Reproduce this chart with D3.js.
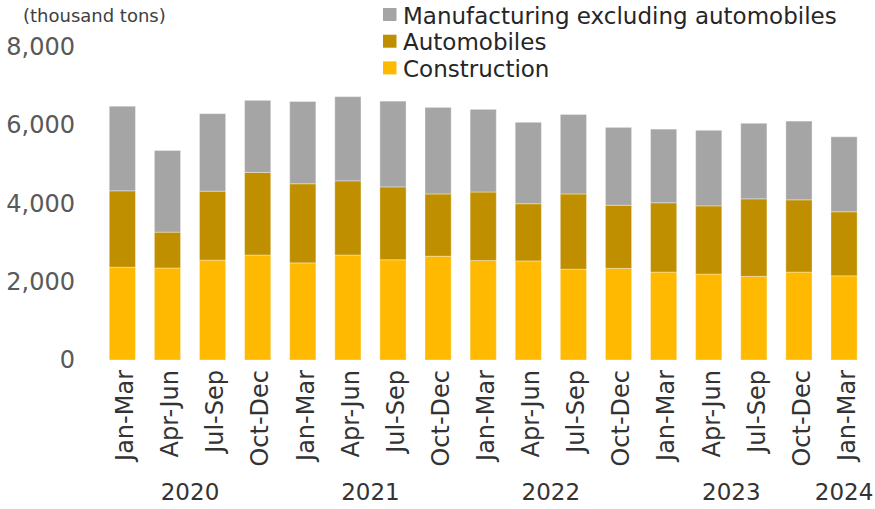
<!DOCTYPE html>
<html><head><meta charset="utf-8">
<script src="https://cdn.jsdelivr.net/npm/d3@7"></script>
<style>body{margin:0;background:#fff}svg{display:block}text{font-family:"DejaVu Sans",Verdana,sans-serif}</style>
</head><body><svg id="c" width="875" height="509"></svg>
<script>
const quarters = ["Jan-Mar","Apr-Jun","Jul-Sep","Oct-Dec","Jan-Mar","Apr-Jun","Jul-Sep","Oct-Dec","Jan-Mar","Apr-Jun","Jul-Sep","Oct-Dec","Jan-Mar","Apr-Jun","Jul-Sep","Oct-Dec","Jan-Mar"];
const years = ["2020","2021","2022","2023","2024"];
const yearStart = [0,4,8,12,16];
const yearLen = [4,4,4,4,1];
const construction = [2370,2350,2550,2680,2480,2680,2560,2650,2540,2530,2320,2340,2245,2195,2135,2245,2150];
const automobiles  = [1950,915,1760,2110,2020,1895,1860,1590,1750,1460,1920,1610,1770,1740,1980,1845,1635];
const manufacturing= [2160,2085,1980,1840,2100,2150,2190,2210,2110,2080,2030,1990,1880,1930,1930,2010,1915];
const yTicks = [0,2000,4000,6000,8000];
const seriesNames = ["Construction","Automobiles","Manufacturing excluding automobiles"];
const colors = ["#FFB900","#BF8F00","#A5A5A5"];

const svg = d3.select("#c");
const ids = d3.range(quarters.length);
const x = d3.scaleBand().domain(ids).range([99.8,866.6]).paddingInner(0.42).paddingOuter(0.21);
const y = d3.scaleLinear().domain([0,8000]).range([360,46.7]);

const rows = ids.map(i => ({i, c: construction[i], a: automobiles[i], m: manufacturing[i]}));
const stack = d3.stack().keys(["c","a","m"])(rows);

svg.append("g").selectAll("g").data(stack).join("g")
  .attr("fill",(d,k)=>colors[k])
  .selectAll("rect").data(d=>d).join("rect")
  .attr("x",d=>x(d.data.i)).attr("width",x.bandwidth())
  .attr("y",d=>y(d[1])).attr("height",d=>y(d[0])-y(d[1]))
  .attr("stroke","#fff").attr("stroke-opacity",0.35).attr("stroke-width",1);

// y axis
const ya = svg.append("g").attr("transform","translate(75,0)")
  .call(d3.axisLeft(y).tickValues(yTicks).tickFormat(d3.format(",")).tickSize(0).tickPadding(0));
ya.select(".domain").remove();
ya.selectAll("text").attr("font-size",24).attr("fill","#595959").attr("font-family","DejaVu Sans, Verdana, sans-serif");

// x axis quarter labels
const xa = svg.append("g").attr("transform","translate(0,370)")
  .call(d3.axisBottom(x).tickFormat(i=>quarters[i]).tickSize(0).tickPadding(0));
xa.select(".domain").remove();
xa.selectAll("text").attr("transform","rotate(-90)").attr("text-anchor","end")
  .attr("x",0).attr("y",0).attr("dy","0.45em").attr("dx","0")
  .attr("font-size",24).attr("fill","#333").attr("font-family","DejaVu Sans, Verdana, sans-serif");

// years
svg.append("g").selectAll("text").data(years).join("text")
  .attr("x",(d,k)=>{const a=x(yearStart[k]); const b=x(yearStart[k]+yearLen[k]-1)+x.bandwidth(); return (a+b)/2;})
  .attr("y",500).attr("text-anchor","middle").attr("font-size",23).attr("fill","#333").text(d=>d);

// unit label
svg.append("text").attr("x",23).attr("y",22).attr("font-size",18).attr("fill","#404040").text("(thousand tons)");

// legend
const leg = [2,1,0];
const lg = svg.append("g").selectAll("g").data(leg).join("g")
  .attr("transform",(d,k)=>`translate(383,${8+k*26.7})`);
lg.append("rect").attr("width",13.5).attr("height",13).attr("fill",d=>colors[d]);
lg.append("text").attr("x",20).attr("y",15.5).attr("font-size",23).attr("fill","#262626").text(d=>seriesNames[d]);
</script></body></html>
